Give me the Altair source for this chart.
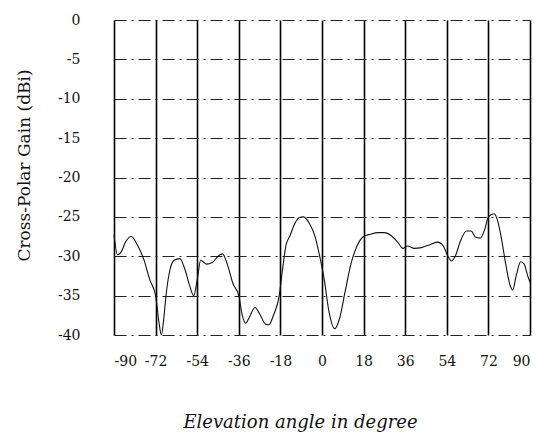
import altair as alt
import pandas as pd

angle = [-90, -88.5, -87, -85, -82.5, -80, -77, -74.5, -72, -70.5, -69.5, -68.5,
         -67.5, -66, -64, -61.5, -59.5, -57.5, -55.5, -54, -52.5, -50, -47.5, -45,
         -43, -41, -38.5, -36, -34.5, -33, -31.5, -29, -27, -24.5, -23, -21, -18.5,
         -17, -15.5, -14, -12, -10, -8, -5.5, -3, -1, 1, 3, 5.5, 7.5, 10, 12.5, 15,
         18, 21, 24, 27, 30, 33, 35, 37, 40, 43, 47, 50, 52.5, 54.5, 56, 57.5, 60,
         62.5, 64.5, 66.5, 68.5, 70.5, 72, 74.5, 76, 77.5, 79.5, 81.5, 82.5, 84, 86,
         87.5, 89, 90]
gain = [-27.3, -29.8, -29.5, -28.2, -27.5, -28.5, -30.5, -33, -35, -38.5, -40, -38,
        -35, -32, -30.5, -30.3, -31.5, -33.5, -35, -33, -30.5, -31, -30.8, -30,
        -29.7, -31, -33.5, -35, -37.5, -38.5, -37.8, -36.5, -37.3, -38.6, -38.7, -37.5, -35,
        -31.5, -28.5, -27.5, -26, -25.1, -25, -25.8, -27.5, -30, -33, -37, -39.2, -38, -34.5, -31, -28.8,
        -27.5, -27.2, -27, -27, -27.4, -28.3, -29, -28.7, -29, -28.9, -28.5, -28.2, -28.7, -30, -30.6, -30.1, -28,
        -26.8, -26.8, -27.6, -27.7, -26.5, -25, -24.6, -25.5, -27.5, -31, -33.8, -34.3, -32.5, -30.7,
        -31, -32.5, -33.3]

x_ticks = [-90, -72, -54, -36, -18, 0, 18, 36, 54, 72, 90]
y_ticks = [0, -5, -10, -15, -20, -25, -30, -35, -40]

df = pd.DataFrame({"angle": angle, "gain": gain})

font = "DejaVu Serif"

chart = alt.Chart(df).mark_line(
    color="#111111", strokeWidth=1.1, interpolate="monotone"
).encode(
    x=alt.X("angle:Q",
            scale=alt.Scale(domain=[-90, 90], nice=False, zero=False),
            axis=alt.Axis(values=x_ticks, labelExpr="toString(datum.value)",
                          title="Elevation angle in degree",
                          grid=True, gridColor="#000000", gridWidth=1.6,
                          domain=False, ticks=False,
                          labelFont=font, labelFontSize=14, labelColor="#111111",
                          labelPadding=19,
                          titleFont=font, titleFontSize=18, titleFontStyle="italic",
                          titleFontWeight="normal", titleColor="#111111",
                          titleX=186, titleY=78, titleBaseline="top")),
    y=alt.Y("gain:Q",
            scale=alt.Scale(domain=[-40, 0], nice=False, zero=False),
            axis=alt.Axis(values=y_ticks, labelExpr="toString(datum.value)",
                          title="Cross-Polar Gain (dBi)",
                          grid=True, gridColor="#222222", gridWidth=1.1,
                          gridDash=[12, 5, 2, 5],
                          domain=False, ticks=False,
                          labelFont=font, labelFontSize=14, labelColor="#111111",
                          labelPadding=34,
                          titleFont=font, titleFontSize=17,
                          titleFontWeight="normal", titleColor="#111111",
                          titleX=-90, titleY=145, titleBaseline="middle")),
).properties(
    width=416, height=315,
    padding={"left": 106, "top": 12, "right": 5, "bottom": 99},
    autosize=alt.AutoSizeParams(type="none"),
).configure(
    background="white"
).configure_view(
    stroke=None
)

chart.save("out.html", embed_options={"renderer": "svg", "actions": False})
